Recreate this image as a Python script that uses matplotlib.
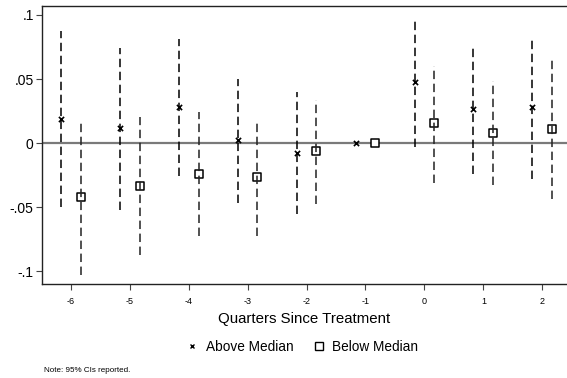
import matplotlib
matplotlib.use("Agg")
import matplotlib.pyplot as plt
from matplotlib.lines import Line2D
import numpy as np

plt.rcParams['font.family'] = ['Liberation Sans', 'DejaVu Sans']

quarters = [-6, -5, -4, -3, -2, -1, 0, 1, 2]
above_est = [0.0187, 0.0115, 0.0279, 0.0021, -0.0076, 0.0, 0.0474, 0.0263, 0.0281]
above_lo = [-0.0500, -0.0523, -0.0255, -0.0466, -0.0552, None, -0.0034, -0.0245, -0.0279]
above_hi = [0.0875, 0.0745, 0.0815, 0.0500, 0.0400, None, 0.0969, 0.0753, 0.0820]
below_est = [-0.0424, -0.0336, -0.0242, -0.0266, -0.0065, 0.0, 0.0154, 0.0081, 0.0112]
below_lo = [-0.1030, -0.0875, -0.0727, -0.0727, -0.0474, None, -0.0310, -0.0328, -0.0438]
below_hi = [0.0159, 0.0200, 0.0242, 0.0180, 0.0340, None, 0.0600, 0.0487, 0.0656]
ytick_vals = [-0.1, -0.05, 0, 0.05, 0.1]
ytick_labels = ["-.1", "-.05", "0", ".05", ".1"]

offset = 0.167

fig = plt.figure(figsize=(5.67, 3.78), dpi=100)
ax = fig.add_axes([42/567, 1-284/378, 1-42/567, (284-6)/378])

ax.axhline(0, color='#7a7a7a', lw=1.6, zorder=1)

dash = (0, (5.5, 3))
for q, lo, hi in zip(quarters, above_lo, above_hi):
    if lo is not None:
        ax.plot([q-offset, q-offset], [lo, hi], color='black', lw=1.1, linestyle=dash, zorder=3)
for q, lo, hi in zip(quarters, below_lo, below_hi):
    if lo is not None:
        ax.plot([q+offset, q+offset], [lo, hi], color='#222222', lw=1.1, linestyle=dash, zorder=3)

xa = np.array(quarters) - offset
xb = np.array(quarters) + offset
ax.scatter(xa, above_est, marker='x', s=14, color='black', linewidths=1.2, zorder=2)
ax.scatter(xb, below_est, marker='s', s=28, facecolor='white', edgecolor='black', linewidths=1.1, zorder=2)

ax.set_xlim(-6.49, 2.42)
ax.set_ylim(-0.110, 0.107)
ax.set_xticks(quarters)
ax.set_xticklabels([str(q) for q in quarters], fontsize=6.5)
ax.set_yticks(ytick_vals)
ax.set_yticklabels(ytick_labels, fontsize=10)
ax.tick_params(axis='both', direction='out', length=4, width=0.8, color='#444444')
ax.tick_params(axis='x', pad=5)
ax.tick_params(axis='y', pad=2)
for s in ['left', 'top', 'bottom']:
    ax.spines[s].set_linewidth(1.0)
    ax.spines[s].set_color('#222222')
ax.spines['right'].set_visible(False)

ax.set_xlabel("Quarters Since Treatment", fontsize=10.8, labelpad=5)

handles = [Line2D([], [], marker='x', linestyle='none', color='black', markersize=3.5, markeredgewidth=1.0),
           Line2D([], [], marker='s', linestyle='none', markerfacecolor='white', markeredgecolor='black', markersize=5.5, markeredgewidth=1.0)]
fig.legend(handles, ["Above Median", "Below Median"], loc='center', bbox_to_anchor=(302/567, 1-347/378),
           ncol=2, frameon=False, fontsize=9.8, handletextpad=0.5, columnspacing=1.34, handlelength=1.0)

fig.text(44/567, 1-370/378, "Note: 95% CIs reported.", fontsize=5.8, va='center', ha='left')

fig.savefig("out.png", dpi=100)
